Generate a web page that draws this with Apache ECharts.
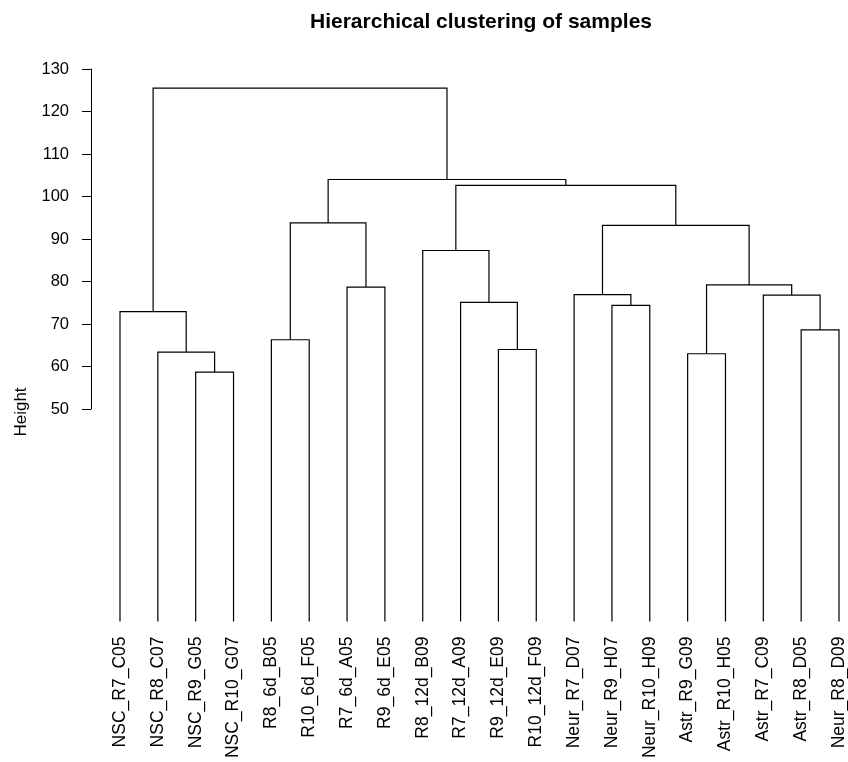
<!DOCTYPE html>
<html>
<head>
<meta charset="utf-8">
<script src="https://cdn.jsdelivr.net/npm/echarts@6/dist/echarts.min.js"></script>
<style>html,body{margin:0;padding:0;background:#fff}#c{width:848px;height:762px}</style>
</head>
<body>
<div id="c"></div>
<script>
// Leaf labels in dendrogram order
const leafLabels = ["NSC_R7_C05","NSC_R8_C07","NSC_R9_G05","NSC_R10_G07","R8_6d_B05","R10_6d_F05","R7_6d_A05","R9_6d_E05","R8_12d_B09","R7_12d_A09","R9_12d_E09","R10_12d_F09","Neur_R7_D07","Neur_R9_H07","Neur_R10_H09","Astr_R9_G09","Astr_R10_H05","Astr_R7_C09","Astr_R8_D05","Neur_R8_D09"];
// Merge steps (hclust style): negative = leaf position (1-based), positive = earlier merge step
const mergeLeft  = [-3, -16, -2, -11, -5, -19, -1, -14, -10, -18, -13, -7, 2, -9, 11, 5, 14, 16, 7];
const mergeRight = [-4, -17,  1, -12, -6, -20,  3, -15,   4,   6,   8, -8, 10, 9, 13, 12, 15, 17, 18];
const mergeHeight = [58.7, 63.0, 63.4, 64.0, 66.3, 68.6, 72.9, 74.4, 75.1, 76.8, 76.9, 78.7, 79.2, 87.3, 93.2, 93.8, 102.6, 104.0, 125.5];
const yTicks = [50, 60, 70, 80, 90, 100, 110, 120, 130];

const FONT = 'Liberation Sans';
const nodeX = [], nodeH = [];
function childPos(c) {
  if (c < 0) return [-c, 0];
  return [nodeX[c - 1], nodeH[c - 1]];
}
const links = [];
for (let i = 0; i < mergeHeight.length; i++) {
  const l = childPos(mergeLeft[i]);
  const r = childPos(mergeRight[i]);
  nodeX.push((l[0] + r[0]) / 2);
  nodeH.push(mergeHeight[i]);
  links.push([l[0], l[1], r[0], r[1], mergeHeight[i]]);
}

const chart = echarts.init(document.getElementById('c'), null, {renderer: 'canvas'});
chart.setOption({
  animation: false,
  backgroundColor: '#fff',
  grid: [
    {left: 120, top: 69, width: 721.7, height: 552.5},
    {left: 91, top: 69, width: 10, height: 340}
  ],
  xAxis: [
    {
      type: 'value', gridIndex: 0, min: 1, max: leafLabels.length, interval: 1,
      axisLine: {show: false}, axisTick: {show: false}, splitLine: {show: false},
      axisLabel: {
        rotate: 90, margin: 15, color: '#000', fontSize: 17.5, fontFamily: FONT,
        showMinLabel: true, showMaxLabel: true,
        formatter: v => leafLabels[Math.round(v) - 1] || ''
      }
    },
    {type: 'value', gridIndex: 1, show: false, min: 0, max: 1}
  ],
  yAxis: [
    {type: 'value', gridIndex: 0, min: 0, max: 130, show: false},
    {
      type: 'value', gridIndex: 1, min: yTicks[0], max: yTicks[yTicks.length - 1], interval: 10,
      axisLine: {show: true, lineStyle: {color: '#000', width: 1}},
      axisTick: {show: true, length: 9, lineStyle: {color: '#000', width: 1}},
      splitLine: {show: false},
      axisLabel: {color: '#000', fontSize: 16.5, fontFamily: FONT, margin: 22}
    }
  ],
  series: [{
    type: 'custom',
    xAxisIndex: 0, yAxisIndex: 0,
    clip: false,
    dimensions: ['x1', 'h1', 'x2', 'h2', 'h'],
    encode: {x: [0, 2], y: [1, 3, 4]},
    data: links,
    renderItem: function (params, api) {
      const x1 = api.value(0), h1 = api.value(1), x2 = api.value(2), h2 = api.value(3), h = api.value(4);
      const pts = [api.coord([x1, h1]), api.coord([x1, h]), api.coord([x2, h]), api.coord([x2, h2])];
      return {
        type: 'polyline',
        shape: {points: pts},
        style: {stroke: '#000', lineWidth: 1.2, fill: null}
      };
    }
  }],
  graphic: [
    {
      type: 'text', x: 481, y: 22,
      style: {text: 'Hierarchical clustering of samples', font: 'bold 21px "Liberation Sans"', fill: '#000', textAlign: 'center', textVerticalAlign: 'middle'}
    },
    {
      type: 'text', x: 21, y: 412, rotation: Math.PI / 2,
      style: {text: 'Height', font: '17px "Liberation Sans"', fill: '#000', textAlign: 'center', textVerticalAlign: 'middle'}
    }
  ]
});
</script>
</body>
</html>
